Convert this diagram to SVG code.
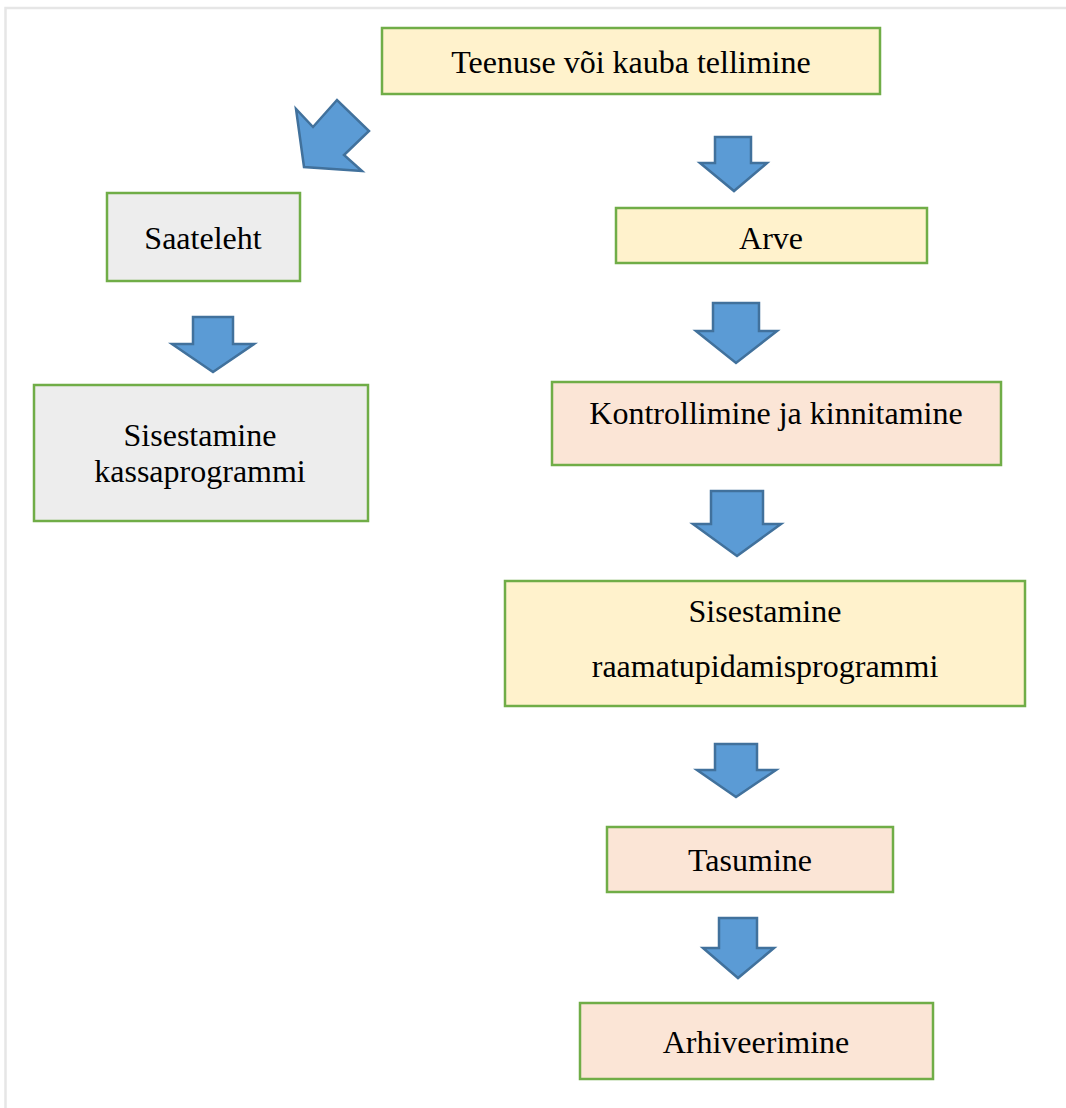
<svg xmlns="http://www.w3.org/2000/svg" width="1066" height="1108" viewBox="0 0 1066 1108">
<style>
.yel{fill:#FFF2CC;stroke:#70AD47;stroke-width:2.5}
.gry{fill:#EDEDED;stroke:#70AD47;stroke-width:2.5}
.pch{fill:#FBE5D6;stroke:#70AD47;stroke-width:2.5}
.arr{fill:#5B9BD5;stroke:#41719C;stroke-width:2.5;stroke-linejoin:miter}
text{font-family:"Liberation Serif","Times New Roman",serif;font-size:32px;fill:#000;text-anchor:middle}
</style>
<rect width="1066" height="1108" fill="#fff"/>
<path d="M5.5,1108 V8 H1066" fill="none" stroke="#E6E6E6" stroke-width="2.5"/>
<g id="connectors">
<polygon class="arr" points="304,167 296,109 313,127 337,100 369,131 344,155 362,171"/>
<polygon class="arr" points="715,137 751,137 751,163 767,163 734,191 700,163 715,163"/>
<polygon class="arr" points="713,303 759,303 759,331 777,331 736,363 696,331 713,331"/>
<polygon class="arr" points="711,491 763,491 763,524 781,524 737,556 693,524 711,524"/>
<polygon class="arr" points="715,744 757,744 757,770 776,770 736,797 697,770 715,770"/>
<polygon class="arr" points="719,918 757,918 757,948 774,948 738,978 703,948 719,948"/>
<polygon class="arr" points="193,317 233,317 233,344 254,344 213,372 172,344 193,344"/>
</g>
<g id="n1"><rect class="yel" x="382" y="28" width="498" height="66"/><text x="631" y="73">Teenuse või kauba tellimine</text></g>
<g id="n2"><rect class="gry" x="107" y="193" width="193" height="88"/><text x="203" y="249">Saateleht</text></g>
<g id="n3"><rect class="gry" x="34" y="385" width="334" height="136"/><text x="200" y="446">Sisestamine</text><text x="200" y="482">kassaprogrammi</text></g>
<g id="n4"><rect class="yel" x="616" y="208" width="311" height="55"/><text x="771" y="249">Arve</text></g>
<g id="n5"><rect class="pch" x="552" y="382" width="449" height="83"/><text x="776" y="424">Kontrollimine ja kinnitamine</text></g>
<g id="n6"><rect class="yel" x="505" y="581" width="520" height="125"/><text x="765" y="622">Sisestamine</text><text x="765" y="677">raamatupidamisprogrammi</text></g>
<g id="n7"><rect class="pch" x="607" y="827" width="286" height="65"/><text x="750" y="871">Tasumine</text></g>
<g id="n8"><rect class="pch" x="580" y="1003" width="353" height="76"/><text x="756" y="1053">Arhiveerimine</text></g>
</svg>
